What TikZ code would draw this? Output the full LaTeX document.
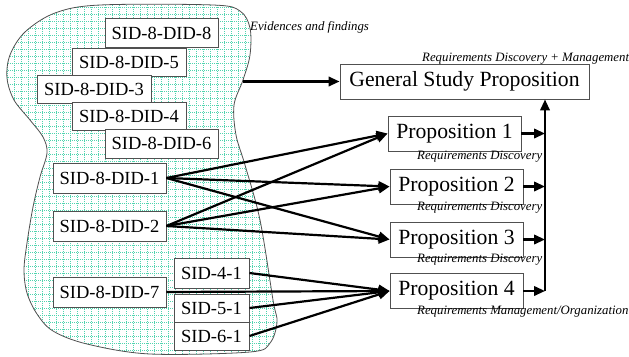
\documentclass[tikz,border=0pt]{standalone}
\usepackage{fontspec}
\setmainfont{Liberation Serif}
\usetikzlibrary{arrows.meta}
\definecolor{gridcol}{RGB}{80,212,175}
\definecolor{edgecol}{RGB}{80,80,80}

\begin{document}
\begin{tikzpicture}[x=1pt,y=-1pt,
  sidbox/.style={draw=edgecol, line width=0.9pt, fill=white, inner sep=0pt,
                 minimum height=29pt, font=\fontsize{18.5}{20}\selectfont},
  didbox/.style={sidbox, minimum width=113pt},
  smallbox/.style={sidbox, minimum width=75pt},
  propbox/.style={draw=edgecol, line width=0.9pt, fill=white, inner sep=0pt,
                  minimum width=133pt, minimum height=35pt,
                  font=\fontsize{21.7}{24}\selectfont},
  note/.style={font=\fontsize{12.8}{14}\selectfont\itshape, inner sep=0pt, anchor=base west},
  link/.style={line width=2.2pt, -{Triangle[length=11pt,width=9.5pt]}},
]
\useasboundingbox (0,0) rectangle (629,356);

% evidence region: gridded blob
\def\blobpath{plot[smooth cycle, tension=0.55] coordinates {
  (100,5) (213,5) (240,11) (250,28) (250,55) (243,80) (234,105) (236,135)
  (245,165) (260,220) (273,300) (277,322) (270,343) (250,352) (150,354)
  (87,344) (53,331) (37,314) (27,293) (24,270) (27,243) (33,207) (40,177)
  (47,153) (43,137) (30,120) (14,100) (7,78) (10,55) (25,32) (55,13)}}
\fill[white] \blobpath;
\begin{scope}
  \clip \blobpath;
  \draw[gridcol, line width=1pt, dash pattern=on 1pt off 1pt, step=7pt] (0,0) grid (290,360);
\end{scope}
\draw[edgecol, line width=0.8pt] \blobpath;

% evidence boxes
\node[didbox] (d8) at (161.5,33) {SID-8-DID-8};
\node[didbox, minimum width=114pt, minimum height=28pt] (d5) at (129,62) {SID-8-DID-5};
\node[didbox, minimum width=114pt, minimum height=28pt] (d3) at (94,89) {SID-8-DID-3};
\node[didbox, minimum width=114pt, minimum height=28pt] (d4) at (129,116) {SID-8-DID-4};
\node[didbox] (d6) at (161.5,143.5) {SID-8-DID-6};
\node[didbox, minimum height=30pt] (d1) at (109.5,178) {SID-8-DID-1};
\node[didbox, minimum height=30pt] (d2) at (109.5,226) {SID-8-DID-2};
\node[didbox, minimum height=30pt] (d7) at (109.5,292) {SID-8-DID-7};
\node[smallbox, minimum height=30pt] (s4) at (211.5,273) {SID-4-1};
\node[smallbox, minimum height=28pt] (s5) at (211.5,308) {SID-5-1};
\node[smallbox, minimum height=28pt] (s6) at (211.5,336) {SID-6-1};

% propositions
\node[propbox, minimum width=249pt] (gen) at (464.5,81.5) {General Study Proposition};
\node[propbox] (p1) at (454.5,133.5) {Proposition 1};
\node[propbox] (p2) at (456.5,186.5) {Proposition 2};
\node[propbox] (p3) at (456.5,239.5) {Proposition 3};
\node[propbox] (p4) at (456.5,291) {Proposition 4};

% labels
\node[note] (lev) at (250,30) {Evidences and findings};
\node[note] (lgen) at (422,61) {Requirements Discovery + Management};
\node[note] (l1) at (417,159) {Requirements Discovery};
\node[note] (l2) at (417,210) {Requirements Discovery};
\node[note] (l3) at (417,262) {Requirements Discovery};
\node[note] (l4) at (417,314) {Requirements Management/Organization};

% connectors
\coordinate (blobout) at (243,81.5);
\draw[link] (blobout) -- (gen.west);

\draw[link] (d1.east) -- (p1.west);
\draw[link] (d1.east) -- (p2.west);
\draw[link] (d1.east) -- (p3.west);
\draw[link] (d2.east) -- (p1.west);
\draw[link] (d2.east) -- (p2.west);
\draw[link] (d2.east) -- (p3.west);

\draw[link] (s4.east) -- (p4.west);
\draw[link] (d7.east) -- (p4.west);
\draw[link] (s5.east) -- (p4.west);
\draw[link] (s6.east) -- (p4.west);

% collecting bus
\coordinate (bus) at (545,291);
\draw[link] (bus) -- (bus |- gen.south);
\draw[link] (p1.east) -- (p1.east -| bus);
\draw[link] (p2.east) -- (p2.east -| bus);
\draw[link] (p3.east) -- (p3.east -| bus);
\draw[link] (p4.east) -- (bus);
\end{tikzpicture}
\end{document}
